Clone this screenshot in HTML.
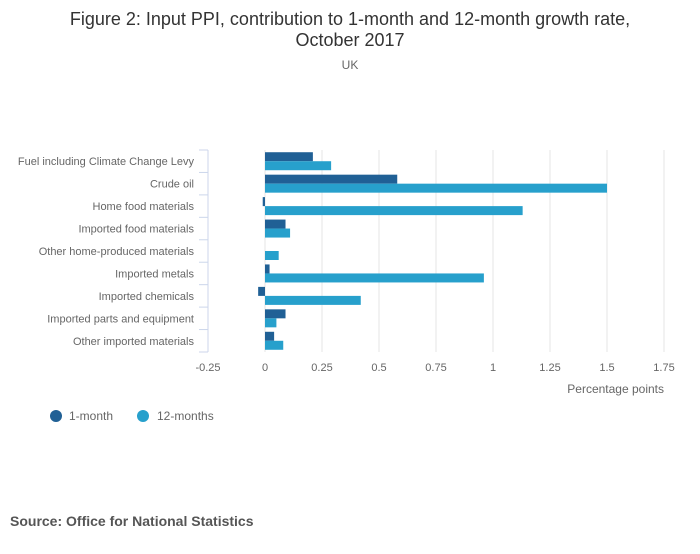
<!DOCTYPE html>
<html><head><meta charset="utf-8"><style>
body{margin:0;background:#fff;font-family:"Liberation Sans",sans-serif;}
svg text{font-family:"Liberation Sans",sans-serif;}
</style></head><body>
<svg id="chart" width="700" height="549" xmlns="http://www.w3.org/2000/svg">
<text x="350" y="25" text-anchor="middle" font-size="18" fill="#333">Figure 2: Input PPI, contribution to 1-month and 12-month growth rate,</text>
<text x="350" y="46" text-anchor="middle" font-size="18" fill="#333">October 2017</text>
<text x="350" y="69" text-anchor="middle" font-size="12" fill="#666">UK</text>
<g id="grid"></g><g id="bars"></g><g id="axes"></g>
<text x="664" y="393" text-anchor="end" font-size="12" fill="#666">Percentage points</text>
<g>
<circle cx="56" cy="416" r="6" fill="#206095"/>
<text x="69" y="420" font-size="12" fill="#666">1-month</text>
<circle cx="143" cy="416" r="6" fill="#27a0cc"/>
<text x="157" y="420" font-size="12" fill="#666">12-months</text>
</g>
<text x="10" y="526" font-size="14" font-weight="bold" fill="#555">Source: Office for National Statistics</text>
</svg>
<script>
const categories=["Fuel including Climate Change Levy","Crude oil","Home food materials","Imported food materials","Other home-produced materials","Imported metals","Imported chemicals","Imported parts and equipment","Other imported materials"];
const oneMonth=[0.21,0.58,-0.01,0.09,0,0.02,-0.03,0.09,0.04];
const twelveMonths=[0.29,1.5,1.13,0.11,0.06,0.96,0.42,0.05,0.08];
const xTicks=[-0.25,0,0.25,0.5,0.75,1,1.25,1.5,1.75];
const xTickLabels=["-0.25","0","0.25","0.5","0.75","1","1.25","1.5","1.75"];
const NS="http://www.w3.org/2000/svg";
const x0=208,x1=664,plotTop=150,plotBottom=352;
const xs=v=>x0+(v+0.25)/2*(x1-x0);
const rowH=(plotBottom-plotTop)/categories.length;
function mk(t,a,p){const e=document.createElementNS(NS,t);for(const k in a)e.setAttribute(k,a[k]);p.appendChild(e);return e;}
const grid=document.getElementById('grid'),bars=document.getElementById('bars'),axes=document.getElementById('axes');
xTicks.forEach((v,i)=>{
  if(i>0){const l=mk('line',{x1:xs(v),x2:xs(v),y1:plotTop,y2:plotBottom,stroke:'#e4e4e4'},grid);
  
  }
  const t=mk('text',{x:xs(v),y:371,'text-anchor':'middle','font-size':11,fill:'#666'},axes);
  t.textContent=xTickLabels[i];
  
  
});
const ax=mk('line',{x1:x0,x2:x0,y1:plotTop,y2:plotBottom,stroke:'#ccd6eb'},axes);


for(let i=0;i<=categories.length;i++){
  const y=plotTop+i*rowH;
  const tk=mk('line',{x1:x0-9,x2:x0,y1:y,y2:y,stroke:'#ccd6eb'},axes);
  
  
}
categories.forEach((c,i)=>{
  const yc=plotTop+(i+0.5)*rowH;
  const t=mk('text',{x:194,y:yc+4,'text-anchor':'end','font-size':11,fill:'#666'},axes);
  t.textContent=c;
  
  
  const bh=9;
  [[oneMonth[i],'#206095',yc-bh],[twelveMonths[i],'#27a0cc',yc]].forEach(([v,col,y],k)=>{
    const xa=xs(Math.min(0,v)),w=Math.abs(xs(v)-xs(0));
    const r=mk('rect',{x:xa,y:y,width:w,height:bh,fill:col},bars);
    
    
  });
});
</script>
</body></html>
